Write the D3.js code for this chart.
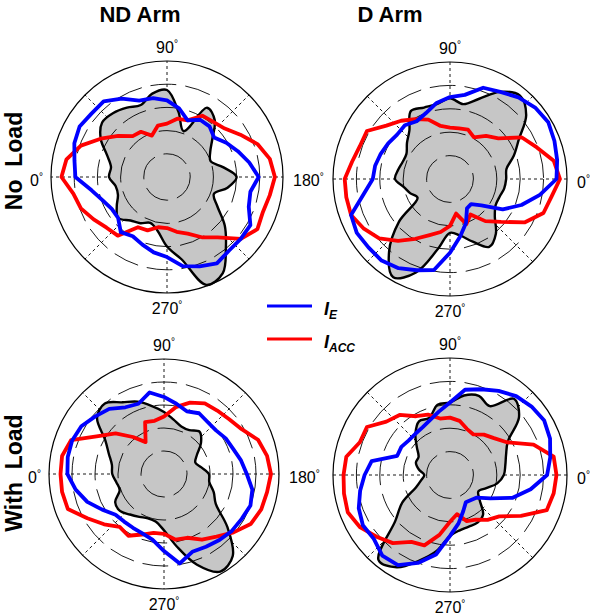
<!DOCTYPE html>
<html>
<head>
<meta charset="utf-8">
<script src="https://cdn.jsdelivr.net/npm/d3@7"></script>
<style>
  body { margin: 0; background: #fff; }
  text { font-family: "Liberation Sans", Arial, sans-serif; }
</style>
</head>
<body>
<svg id="chart" width="600" height="616"></svg>
<script>
// angles in degrees, one value every 10 deg
const angles = d3.range(0, 360, 10);

// normalised radius (outer circle = 1)
const ndNoLoadArea = [.50,.49,.55,.66,.73,.72,.69,.66,.73,.75,.57,.42,.69,.64,.51,.43,.40,.49,.60,.53,.43,.50,.65,.79,.96,.99,.72,.60,.47,.42,.46,.49,.55,.50,.45,.45];
const ndNoLoadIE   = [.79,.81,.85,.87,.85,.85,.78,.70,.69,.66,.60,.52,.57,.57,.53,.59,.65,.72,.79,.73,.75,.83,.83,.83,.86,.82,.78,.69,.66,.62,.59,.62,.55,.55,.59,.66];
const ndNoLoadIACC = [.91,.88,.79,.66,.55,.46,.45,.38,.45,.46,.51,.52,.61,.62,.65,.73,.83,.90,.93,.90,.88,.90,.83,.68,.60,.52,.48,.44,.44,.49,.50,.66,.68,.73,.79,.82];

const dNoLoadArea = [.48,.49,.58,.68,.85,.93,.86,.73,.65,.69,.65,.65,.67,.54,.48,.43,.43,.45,.47,.40,.36,.32,.57,.81,.97,.85,.61,.46,.49,.57,.67,.61,.50,.45,.45,.47];
const dNoLoadIE   = [.91,.93,.95,.97,.95,.91,.86,.83,.73,.70,.66,.60,.57,.60,.59,.61,.63,.65,.66,.75,.90,.92,.91,.91,.88,.83,.79,.63,.50,.40,.29,.28,.35,.52,.65,.78];
const dNoLoadIACC = [.94,.90,.79,.71,.54,.48,.41,.45,.44,.44,.46,.54,.59,.65,.71,.82,.82,.85,.90,.90,.90,.85,.79,.69,.59,.51,.46,.40,.30,.41,.35,.47,.57,.74,.85,.88];

const ndLoadArea = [.45,.46,.51,.59,.76,.80,.72,.67,.60,.54,.48,.44,.44,.48,.42,.33,.29,.33,.39,.40,.46,.52,.72,.93,.98,.84,.64,.49,.42,.41,.43,.46,.50,.49,.41,.42];
const ndLoadIE   = [.84,.85,.85,.83,.78,.74,.67,.65,.72,.67,.62,.58,.61,.59,.59,.62,.64,.68,.72,.78,.80,.78,.77,.75,.73,.72,.79,.67,.58,.55,.54,.54,.55,.62,.71,.78];
const ndLoadIACC = [.90,.90,.86,.66,.55,.42,.32,.48,.47,.50,.59,.66,.71,.72,.74,.78,.87,.91,.93,.91,.90,.87,.79,.71,.66,.59,.58,.52,.52,.56,.62,.60,.68,.77,.89,.90];

const dLoadArea = [.46,.48,.51,.57,.77,.85,.68,.72,.69,.62,.61,.52,.53,.46,.37,.31,.31,.27,.22,.25,.31,.47,.61,.95,.91,.78,.66,.52,.48,.47,.47,.44,.33,.28,.33,.41];
const dLoadIE   = [.83,.87,.91,.93,.91,.88,.83,.78,.74,.62,.55,.50,.47,.46,.46,.48,.48,.68,.73,.78,.83,.86,.85,.90,.89,.80,.69,.52,.42,.33,.27,.28,.30,.40,.57,.70];
const dLoadIACC = [.91,.90,.76,.56,.49,.45,.40,.42,.47,.49,.49,.55,.58,.67,.71,.82,.82,.90,.91,.92,.93,.89,.82,.76,.66,.64,.52,.40,.34,.42,.44,.50,.55,.70,.88,.90];

const columnTitles = ["ND Arm", "D Arm"];
const rowTitles = ["No\u00a0\u00a0Load", "With\u00a0\u00a0Load"];
const rings = [0.2, 0.4, 0.6, 0.8];
const spokes = d3.range(0, 360, 45);

const panels = [
  { cx: 167, cy: 177, R: 116, nd: true,  area: ndNoLoadArea, ie: ndNoLoadIE, iacc: ndNoLoadIACC },
  { cx: 450, cy: 179, R: 117, nd: false, area: dNoLoadArea,  ie: dNoLoadIE,  iacc: dNoLoadIACC },
  { cx: 164, cy: 474, R: 115, nd: true,  area: ndLoadArea,   ie: ndLoadIE,   iacc: ndLoadIACC },
  { cx: 450, cy: 475, R: 117, nd: false, area: dLoadArea,    ie: dLoadIE,    iacc: dLoadIACC }
];

const svg = d3.select("#chart");
svg.append("rect").attr("width", 600).attr("height", 616).attr("fill", "#fff");

panels.forEach(p => {
  const g = svg.append("g").attr("transform", `translate(${p.cx},${p.cy})`);
  const r = d3.scaleLinear().domain([0, 1]).range([0, p.R]);
  // lineRadial angle: clockwise from 12 o'clock
  const a = d3.scaleLinear().domain([0, 360])
    .range(p.nd ? [-Math.PI / 2, 1.5 * Math.PI] : [Math.PI / 2, Math.PI / 2 - 2 * Math.PI]);

  const toPts = vals => angles.map((t, i) => ({ t, v: vals[i] }));
  const radial = curve => d3.lineRadial().angle(d => a(d.t)).radius(d => r(d.v)).curve(curve);

  // dashed spokes
  g.selectAll(".spoke").data(spokes).join("line")
    .attr("x1", 0).attr("y1", 0)
    .attr("x2", d => r(1) * Math.sin(a(d)))
    .attr("y2", d => -r(1) * Math.cos(a(d)))
    .attr("stroke", "#000").attr("stroke-width", 0.9)
    .attr("stroke-dasharray", "3,3");

  // gray pattern
  g.append("path")
    .attr("d", radial(d3.curveCatmullRomClosed.alpha(0.5))(toPts(p.area)))
    .attr("fill", "#c6c6c6").attr("stroke", "#000").attr("stroke-width", 2.4)
    .attr("stroke-linejoin", "round");

  // inner rings
  g.selectAll(".ring").data(rings).join("circle")
    .attr("r", d => r(d)).attr("fill", "none")
    .attr("stroke", "#000").attr("stroke-width", 0.9)
    .attr("stroke-dasharray", "26,9");
  g.append("circle").attr("r", r(1)).attr("fill", "none")
    .attr("stroke", "#000").attr("stroke-width", 1.2);

  g.append("path")
    .attr("d", radial(d3.curveLinearClosed)(toPts(p.iacc)))
    .attr("fill", "none").attr("stroke", "#ff0000").attr("stroke-width", 3.8)
    .attr("stroke-linejoin", "round");
  g.append("path")
    .attr("d", radial(d3.curveLinearClosed)(toPts(p.ie)))
    .attr("fill", "none").attr("stroke", "#0000ff").attr("stroke-width", 3.8)
    .attr("stroke-linejoin", "round");

  // angle labels (the 180 label between the two columns is shared)
  const lab = (txt, x, y, anchor) => {
    const t = g.append("text").attr("x", x).attr("y", y)
      .attr("text-anchor", anchor).attr("font-size", 16).attr("fill", "#000");
    t.append("tspan").text(txt);
    t.append("tspan").text("\u00b0").attr("font-size", 10).attr("dy", -6);
  };
  lab("90", 0, -p.R - 8, "middle");
  lab("270", 0, p.R + 21, "middle");
  if (p.nd) {
    lab("0", -p.R - 8, 9, "end");
    lab("180", p.R + 10, 9, "start");
  } else {
    lab("0", p.R + 10, 9, "start");
  }
});

// column titles
svg.selectAll(".ctitle").data(columnTitles).join("text")
  .attr("x", (d, i) => [140, 390][i]).attr("y", 22)
  .attr("text-anchor", "middle").attr("font-size", 22).attr("font-weight", "bold")
  .text(d => d);

// row titles
svg.selectAll(".rtitle").data(rowTitles).join("text")
  .attr("transform", (d, i) => `translate(22,${[161, 473][i]}) rotate(-90)`)
  .attr("text-anchor", "middle").attr("font-size", 23).attr("font-weight", "bold")
  .text(d => d);

// legend
const legend = [
  { color: "#0000ff", name: "I", sub: "E", y: 306 },
  { color: "#ff0000", name: "I", sub: "ACC", y: 339 }
];
const lg = svg.append("g");
legend.forEach(l => {
  lg.append("line").attr("x1", 267).attr("x2", 312).attr("y1", l.y).attr("y2", l.y)
    .attr("stroke", l.color).attr("stroke-width", 3.2);
  const t = lg.append("text").attr("x", 324).attr("y", l.y + 9)
    .attr("font-size", 18).attr("font-weight", "bold").attr("font-style", "italic");
  t.append("tspan").text(l.name);
  t.append("tspan").text(l.sub).attr("font-size", 12).attr("dy", 4);
});
</script>
</body>
</html>
